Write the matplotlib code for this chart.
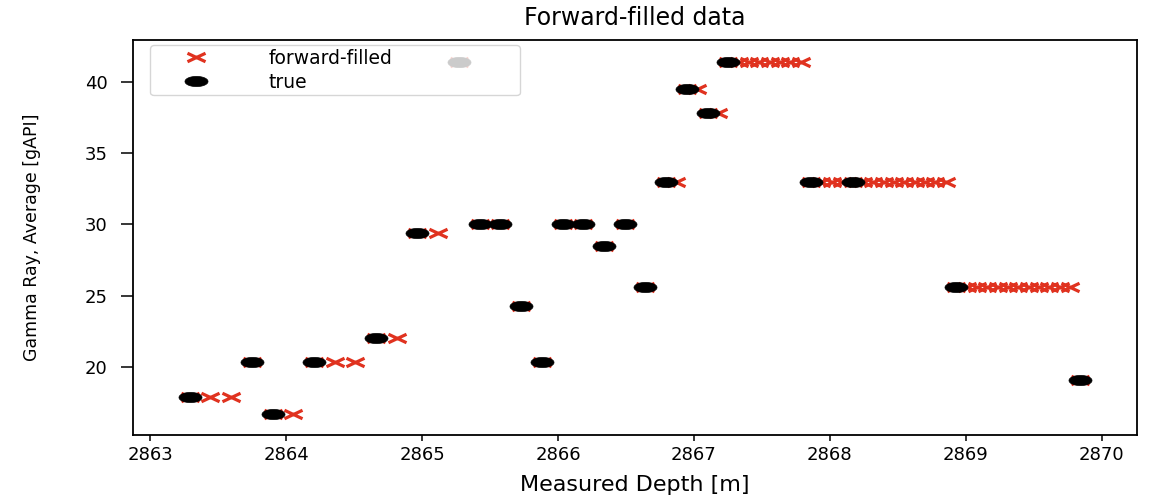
import numpy as np
import matplotlib
matplotlib.use("Agg")
import matplotlib.pyplot as plt
from matplotlib.path import Path

# 测井数据: 原始 (true) 点
true_depth = [2863.290, 2863.747, 2863.900, 2864.204, 2864.662, 2864.966, 2865.271,
              2865.424, 2865.576, 2865.728, 2865.881, 2866.033, 2866.186, 2866.338,
              2866.490, 2866.643, 2866.795, 2866.948, 2867.100, 2867.252, 2867.862,
              2868.167, 2868.929, 2869.843]
true_gr = [17.85, 20.30, 16.70, 20.30, 22.00, 29.40, 41.40,
           30.00, 30.00, 24.26, 20.30, 30.00, 30.00, 28.48,
           30.00, 25.62, 33.00, 39.48, 37.80, 41.40, 33.00,
           33.00, 25.62, 19.07]

# 前向填充的点 (缺失处)
fill_depth = [2863.442, 2863.595, 2864.052, 2864.357, 2864.509, 2864.814, 2865.119,
              2866.871, 2867.024, 2867.176,
              2867.328, 2867.405, 2867.481, 2867.557, 2867.633, 2867.710, 2867.786,
              2867.938, 2868.014, 2868.091,
              2868.243, 2868.319, 2868.395, 2868.472, 2868.548, 2868.624, 2868.700,
              2868.776, 2868.853,
              2869.005, 2869.081, 2869.157, 2869.233, 2869.310, 2869.386, 2869.462,
              2869.538, 2869.614, 2869.691, 2869.767]
fill_gr = [17.85, 17.85, 16.70, 20.30, 20.30, 22.00, 29.40,
           33.00, 39.48, 37.80,
           41.40, 41.40, 41.40, 41.40, 41.40, 41.40, 41.40,
           33.00, 33.00, 33.00,
           33.00, 33.00, 33.00, 33.00, 33.00, 33.00, 33.00,
           33.00, 33.00,
           25.62, 25.62, 25.62, 25.62, 25.62, 25.62, 25.62,
           25.62, 25.62, 25.62, 25.62]

ff_depth = np.concatenate([true_depth, fill_depth])
ff_gr = np.concatenate([true_gr, fill_gr])
order = np.argsort(ff_depth)
ff_depth, ff_gr = ff_depth[order], ff_gr[order]

# 压扁的标记 (椭圆 / 宽 x)
t = np.linspace(0, 2 * np.pi, 60)
ellipse = Path(np.column_stack([1.13 * np.cos(t), 0.5 * np.sin(t)]), closed=True)
wide_x = Path([(-1, -0.47), (1, 0.47), (-1, 0.47), (1, -0.47)],
              [Path.MOVETO, Path.LINETO, Path.MOVETO, Path.LINETO])

red = '#e0321f'

fig = plt.figure(figsize=(11.5, 4.96), dpi=100)
ax = fig.add_axes([0.1157, 0.123, 0.873, 0.796])

ax.plot(ff_depth, ff_gr, linestyle='none', marker=wide_x, ms=13, mew=2.3,
        mec=red, mfc='none', label='forward-filled')
ax.plot(true_depth, true_gr, linestyle='none', marker=ellipse, ms=16.6,
        mec='black', mfc='black', mew=0.5, label='true')

ax.set_xlim(2862.874, 2870.259)
ax.set_ylim(15.2, 42.94)
ax.set_xticks(range(2863, 2871))
ax.set_yticks([20, 25, 30, 35, 40])
ax.tick_params(axis='x', labelsize=13, length=4.5, width=1.1)
ax.tick_params(axis='y', labelsize=13, length=8.5, width=1.1, pad=10)
for s in ax.spines.values():
    s.set_linewidth(1.3)

ax.set_title('Forward-filled data', fontsize=17, pad=11)
ax.set_xlabel('Measured Depth [m]', fontsize=16)
ax.xaxis.set_label_coords(0.5, -0.102)
ax.set_ylabel('Gamma Ray, Average [gAPI]', fontsize=12.5)
ax.yaxis.set_label_coords(-0.092, 0.5)

ax.legend(loc='upper left', bbox_to_anchor=(0.017, 0.866, 0.3685, 0.121),
          mode='expand', borderaxespad=0, fontsize=13.5, handlelength=4.5,
          handletextpad=1.6, borderpad=0.2, labelspacing=0.25)

fig.savefig('out.png', dpi=100)
